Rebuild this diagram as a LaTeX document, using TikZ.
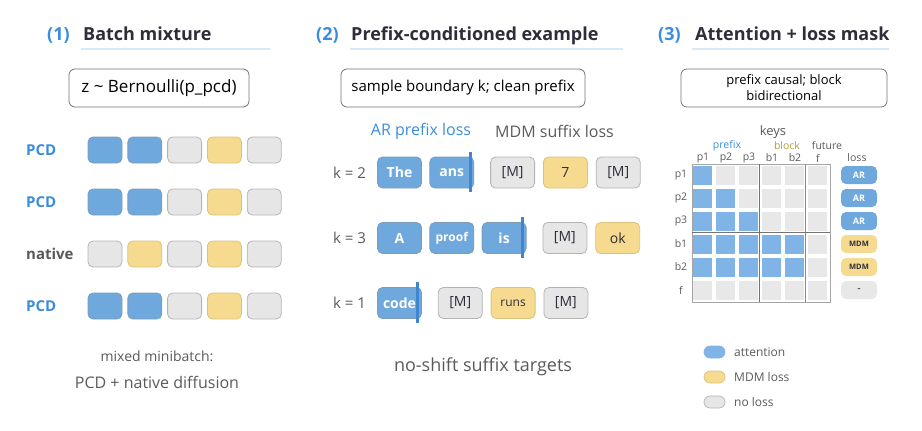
\documentclass[tikz,border=0pt]{standalone}
\usepackage{fontspec}
\setmainfont{Open Sans}
\usetikzlibrary{positioning,calc}

\definecolor{tokblue}{HTML}{6FA8DC}
\definecolor{tokblueline}{HTML}{7D9CBA}
\definecolor{tokgold}{HTML}{F6DA8F}
\definecolor{tokgoldline}{HTML}{DCC27E}
\definecolor{tokgrey}{HTML}{E6E6E6}
\definecolor{tokgreyline}{HTML}{B4B4B4}
\definecolor{headblue}{HTML}{3A8DDE}
\definecolor{inkdark}{HTML}{2E2E3A}
\definecolor{inkgrey}{HTML}{5A5A5A}
\definecolor{rulelight}{HTML}{D8E9F8}
\definecolor{barblue}{HTML}{3F86CF}
\definecolor{gridblue}{HTML}{80B4E6}
\definecolor{gridgrey}{HTML}{E8E8E8}
\definecolor{blockgold}{HTML}{B39B3A}

\tikzset{
  fillA/.style={fill=tokblue, draw=tokblueline},
  fillM/.style={fill=tokgold, draw=tokgoldline},
  fillN/.style={fill=tokgrey, draw=tokgreyline},
}

\begin{document}
\begin{tikzpicture}[x=1pt, y=-1pt,
    headnum/.style={anchor=base west, inner sep=0pt, text=headblue, font=\fontsize{18}{20}\selectfont\bfseries},
    headtxt/.style={anchor=base west, inner sep=0pt, text=inkdark, font=\fontsize{18}{20}\selectfont\bfseries},
    headrule/.style={rulelight, line width=2pt},
    infobox/.style={draw=black!55, line width=0.8pt, rounded corners=6pt, minimum height=38pt, align=center},
    cell/.style={fill#1, rounded corners=5pt, line width=0.8pt, minimum width=34pt, minimum height=26pt, inner sep=0pt},
    tok/.style={fill#1, rounded corners=5pt, line width=0.8pt, minimum width=44pt, minimum height=31pt, inner sep=0pt, font=\fontsize{14}{15}\selectfont},
    tokA/.style={tok=A, text=white, font=\fontsize{14}{15}\selectfont\bfseries},
    tokM/.style={tok=M, text=inkdark},
    tokN/.style={tok=N, text=inkdark},
    bound/.style={barblue, line width=3pt},
    klab/.style={text=inkgrey, font=\fontsize{15}{17}\selectfont, inner sep=0pt},
    rowlab/.style={anchor=west, inner sep=0pt, font=\fontsize{15}{17}\selectfont\bfseries},
    small/.style={text=inkgrey, inner sep=0pt, font=\fontsize{#1}{#1}\selectfont},
    pill/.style={rounded corners=5pt, minimum width=36pt, minimum height=18pt, inner sep=0pt, font=\fontsize{9}{10}\selectfont\bfseries},
    legpill/.style={fill#1, rounded corners=6pt, line width=0.7pt, minimum width=21pt, minimum height=12pt, inner sep=0pt},
  ]
\useasboundingbox (0,0) rectangle (922,431);

% (1) batch mixture
\node[headnum] (h1n) at (47,40) {(1)};
\node[headtxt] (h1t) at (83,40) {Batch mixture};
\draw[headrule] (81,49) -- (270,49);
\node[infobox, minimum width=180pt, font=\fontsize{17}{19}\selectfont] (zbox) at (159,88) {z \textasciitilde{} Bernoulli(p\_pcd)};
\foreach \lab/\col/\y/\pat [count=\r] in {PCD/headblue/150/{A,A,N,M,N}, PCD/headblue/202/{A,A,N,M,N},
    native/inkgrey/254/{N,M,N,M,N}, PCD/headblue/306/{A,A,N,M,N}} {
  \node[rowlab, text=\col] (row\r) at (26,\y) {\lab};
  \foreach \c [count=\i] in \pat
    \node[cell=\c] (b\r\i) at ({105+39.8*(\i-1)},\y) {};
}
\node[small=14] (mix1) at (157,356) {mixed minibatch:};
\node[small=16] (mix2) at (157,382) {PCD + native diffusion};

% (2) prefix-conditioned example
\node[headnum] (h2n) at (316,40) {(2)};
\node[headtxt] (h2t) at (351,40) {Prefix-conditioned example};
\draw[headrule] (350,49) -- (623,49);
\node[infobox, minimum width=244pt, font=\fontsize{15}{17}\selectfont] (kbox) at (463,88) {sample boundary k; clean prefix};
\node[small=16, text=headblue] (arl) at (421,131) {AR prefix loss};
\node[small=16] (mdml) at (554.5,131) {MDM suffix loss};

\node[tokA] (t11) at (399.5,172.5) {The};
\node[tokA, right=7.5pt of t11] (t12) {ans};
\node[tokN, right=16pt of t12] (t13) {[M]};
\node[tokM, right=8pt of t13] (t14) {7};
\node[tokN, right=8pt of t14] (t15) {[M]};
\node[klab, left=11pt of t11] (k1) {k = 2};
\draw[bound] ([xshift=-4pt,yshift=5pt]t12.north east) -- ([xshift=-4pt,yshift=-4pt]t12.south east);

\node[tokA] (t21) at (399.5,238) {A};
\node[tokA, right=7.5pt of t21, font=\fontsize{12}{13}\selectfont\bfseries] (t22) {proof};
\node[tokA, right=7.5pt of t22] (t23) {is};
\node[tokN, right=16pt of t23] (t24) {[M]};
\node[tokM, right=8pt of t24] (t25) {ok};
\node[klab, left=11pt of t21] (k2) {k = 3};
\draw[bound] ([xshift=-4pt,yshift=5pt]t23.north east) -- ([xshift=-4pt,yshift=-4pt]t23.south east);

\node[tokA] (t31) at (399.5,303) {code};
\node[tokN, right=16pt of t31] (t32) {[M]};
\node[tokM, right=8pt of t32, font=\fontsize{12}{13}\selectfont] (t33) {runs};
\node[tokN, right=8pt of t33] (t34) {[M]};
\node[klab, left=11pt of t31] (k3) {k = 1};
\draw[bound] ([xshift=-4pt,yshift=5pt]t31.north east) -- ([xshift=-4pt,yshift=-4pt]t31.south east);

\node[small=18] (noshift) at (483,367) {no-shift suffix targets};

% (3) attention + loss mask
\node[headnum] (h3n) at (658,40) {(3)};
\node[headtxt] (h3t) at (695,40) {Attention + loss mask};
\draw[headrule] (692,49) -- (889,49);
\node[infobox, minimum width=206pt, font=\fontsize{13}{16}\selectfont] (mbox) at (784,88) {prefix causal; block\\bidirectional};
\node[small=13] (keys) at (773,132) {keys};
\node[small=10.5, text=headblue] (gpre) at (727,146) {prefix};
\node[small=10.5, text=blockgold] (gblk) at (787,146) {block};
\node[small=10.5] (gfut) at (827,146) {future};
\node[small=10.5] (losslab) at (857,158) {loss};

\begin{scope}[shift={(692,164)}]
  \foreach \n [count=\i from 0] in {p1,p2,p3,b1,b2,f} {
    \node[small=10.5] (col\n) at ({23*\i+11},-6) {\n};
    \node[small=10.5] (row\n) at (-11,{23*\i+11}) {\n};
  }
  % attention pattern: number of attended keys per query row
  \foreach \k [count=\j from 0] in {1,2,3,5,5,0}
    \foreach \i in {0,...,5} {
      \ifnum\i<\k \def\cc{gridblue}\else\def\cc{gridgrey}\fi
      \fill[\cc] ({23*\i+0.5},{23*\j+1.5}) rectangle ++(19.5,19);
    }
  \draw[black!35, line width=0.7pt] (0,0) rectangle (138,138);
  \draw[black!55, line width=1pt] (67.8,0) -- (67.8,138);
  \draw[black!45, line width=0.8pt] (113.6,0) -- (113.6,138);
  \draw[black!55, line width=1pt] (0,68.5) -- (138,68.5);
\end{scope}

\node[pill, fill=tokblue, text=white] (ls1) at (859,175) {AR};
\node[pill, fill=tokblue, text=white] (ls2) at (859,198) {AR};
\node[pill, fill=tokblue, text=white] (ls3) at (859,221) {AR};
\node[pill, fill=tokgold, text=inkdark, font=\fontsize{7.5}{9}\selectfont\bfseries] (ls4) at (859,244) {MDM};
\node[pill, fill=tokgold, text=inkdark, font=\fontsize{7.5}{9}\selectfont\bfseries] (ls5) at (859,267) {MDM};
\node[pill, fill=gridgrey, text=inkgrey] (ls6) at (859,290) {-};

\node[legpill=A, draw=gridblue, fill=gridblue] (lg1) at (714.5,352) {};
\node[small=12, anchor=west] (lt1) at (734,352) {attention};
\node[legpill=M] (lg2) at (714.5,377) {};
\node[small=12, anchor=west] (lt2) at (734,377) {MDM loss};
\node[legpill=N] (lg3) at (714.5,402) {};
\node[small=12, anchor=west] (lt3) at (734,402) {no loss};
\end{tikzpicture}
\end{document}
